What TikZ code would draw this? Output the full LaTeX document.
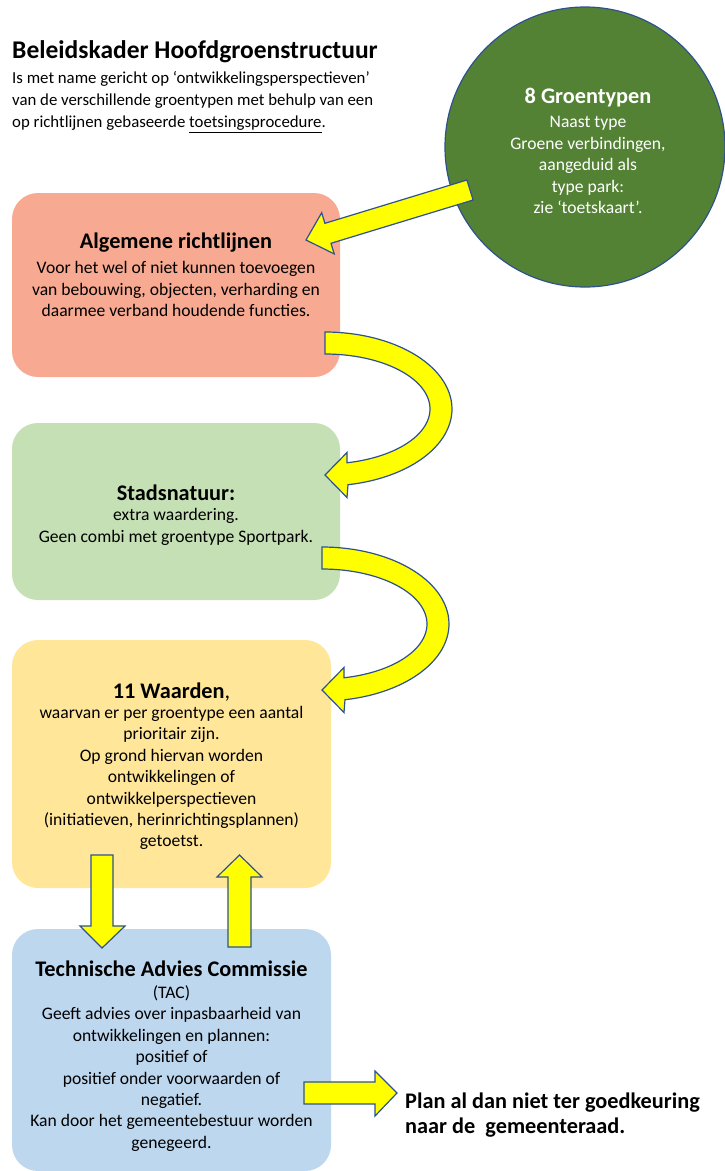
\documentclass[tikz,border=0pt]{standalone}
\usepackage{fontspec}
\setmainfont{Carlito}
\definecolor{salmonbox}{RGB}{248,169,145}
\definecolor{greenbox}{RGB}{197,224,180}
\definecolor{yellowbox}{RGB}{255,230,153}
\definecolor{bluebox}{RGB}{189,215,238}
\definecolor{circgreen}{RGB}{84,130,53}
\definecolor{arrowblue}{RGB}{47,82,143}
\definecolor{arrowyellow}{RGB}{255,255,0}
\newcommand\mycurvedarrow[1]{%
  \begin{scope}[shift={#1}]
    \draw[blockarrow] plot[domain=-90:79.57, samples=60] ({127*cos(\x)},{77*sin(\x)})
      -- (22,88.5) -- (0,66) -- (22,43.5)
      -- plot[domain=77.9:-90, samples=60] ({105*cos(\x)},{55*sin(\x)}) -- cycle;
  \end{scope}}
\begin{document}
\begin{tikzpicture}[x=1pt,y=-1pt,
  box/.style={draw=none, rounded corners=26pt, inner sep=0pt, rectangle},
  blockarrow/.style={fill=arrowyellow, draw=arrowblue, line width=1.2pt, line join=miter},
  bodytext/.style={font=\fontsize{17.6}{21.4}\selectfont, align=center, inner sep=0pt},
  headtext/.style={font=\fontsize{22.3}{26}\selectfont\bfseries, inner sep=0pt},
]
\useasboundingbox (0,0) rectangle (725,1171);
\fill[white] (0,0) rectangle (725,1171);

% boxes
\node[box, fill=salmonbox, minimum width=328pt, minimum height=184pt] (alg) at (176,285) {};
\node[box, fill=greenbox, minimum width=328pt, minimum height=177pt] (stad) at (176,511.5) {};
\node[box, fill=yellowbox, minimum width=319pt, minimum height=248pt] (waard) at (171.5,764) {};
\node[box, fill=bluebox, minimum width=319pt, minimum height=242pt] (tac) at (171.5,1050) {};

% circle
\node[circle, fill=circgreen, draw=arrowblue, line width=1.2pt, minimum size=280pt, inner sep=0pt] (groen) at (585,147) {};

% arrows
\draw[blockarrow] (473.1,200.0) -- (466.9,180.0) -- (324.9,223.3) -- (321.7,212.7)
  -- (306,240) -- (334.2,253.9) -- (331.0,243.3) -- cycle;
\mycurvedarrow{(325,409)}
\mycurvedarrow{(322,624)}
\draw[blockarrow] (91,855) -- (113,855) -- (113,926) -- (125,926) -- (102,948) -- (80,926) -- (91,926) -- cycle;
\draw[blockarrow] (228,947) -- (251,947) -- (251,877) -- (262,877) -- (239.5,855) -- (217,877) -- (228,877) -- cycle;
\draw[blockarrow] (304,1082) -- (375,1082) -- (375,1071) -- (397,1093) -- (375,1116) -- (375,1104) -- (304,1104) -- cycle;

% title
\node[anchor=west, font=\fontsize{25.5}{30}\selectfont\bfseries, inner sep=0pt] (title) at (12,52) {Beleidskader Hoofdgroenstructuur};
\node[anchor=west, align=left, font=\fontsize{16.8}{22}\selectfont, inner sep=0pt] (sub) at (12,102)
  {Is met name gericht op ‘ontwikkelingsperspectieven’\\van de verschillende groentypen met behulp van een\\op richtlijnen gebaseerde \underline{toetsingsprocedure}.};

% circle text
\node[headtext, text=white] (groenh) at (588,98) {8 Groentypen};
\node[bodytext, text=white, font=\fontsize{17.6}{21.5}\selectfont] (groenb) at (588,165)
  {Naast type\\Groene verbindingen,\\aangeduid als\\type park:\\zie ‘toetskaart’.};

% box texts
\node[headtext] (algh) at (176,243) {Algemene richtlijnen};
\node[bodytext] (algb) at (176,289)
  {Voor het wel of niet kunnen toevoegen\\van bebouwing, objecten, verharding en\\daarmee verband houdende functies.};

\node[headtext] (stadh) at (176,493) {Stadsnatuur:};
\node[bodytext] (stadb) at (176,527)
  {extra waardering.\\Geen combi met groentype Sportpark.};

\node[headtext] (waardh) at (171.5,692) {11 Waarden\textmd{,}};
\node[bodytext] (waardb) at (171.5,778)
  {waarvan er per groentype een aantal\\prioritair zijn.\\Op grond hiervan worden\\ontwikkelingen of\\ontwikkelperspectieven\\(initiatieven, herinrichtingsplannen)\\getoetst.};

\node[headtext] (tach) at (171.5,969) {Technische Advies Commissie};
\node[bodytext] (tacb) at (171.5,1068.5)
  {(TAC)\\Geeft advies over inpasbaarheid van\\ontwikkelingen en plannen:\\positief of\\positief onder voorwaarden of\\negatief.\\Kan door het gemeentebestuur worden\\genegeerd.};

% result text
\node[anchor=west, align=left, font=\fontsize{22.3}{25}\selectfont\bfseries, inner sep=0pt] (plan) at (405,1115.5)
  {Plan al dan niet ter goedkeuring\\naar de\ \ gemeenteraad.};
\end{tikzpicture}
\end{document}
